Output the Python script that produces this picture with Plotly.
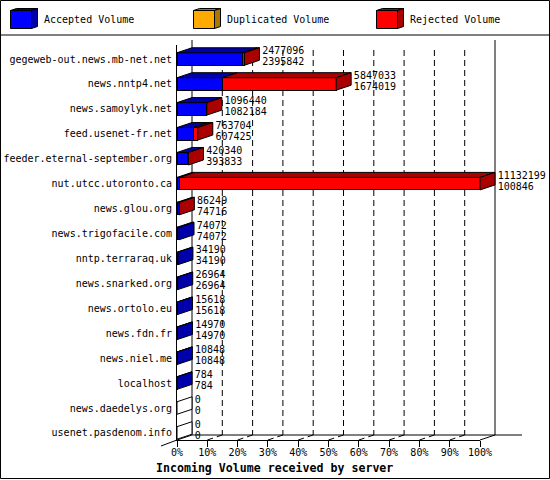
"""
Incoming volume per server, 3D-looking stacked bars (innreport style)
"""

import plotly.graph_objects as go

# Data
servers = ['gegeweb-out.news.mb-net.net', 'news.nntp4.net', 'news.samoylyk.net',
           'feed.usenet-fr.net', 'feeder.eternal-september.org', 'nut.utcc.utoronto.ca',
           'news.glou.org', 'news.trigofacile.com', 'nntp.terraraq.uk', 'news.snarked.org',
           'news.ortolo.eu', 'news.fdn.fr', 'news.niel.me', 'localhost',
           'news.daedelys.org', 'usenet.pasdenom.info']
total = [2477096, 5847033, 1096440, 763704, 420340, 11132199, 86249, 74072,
         34190, 26964, 15618, 14970, 10848, 784, 0, 0]
accepted = [2395842, 1674019, 1082184, 607425, 393833, 100846, 74716, 74072,
            34190, 26964, 15618, 14970, 10848, 784, 0, 0]
percent_ticks = [0, 10, 20, 30, 40, 50, 60, 70, 80, 90, 100]

MONO = 'DejaVu Sans Mono, Liberation Mono, monospace'
BLUE, BLUE_DARK = '#0000ff', '#0000aa'
RED, RED_DARK = '#ff0000', '#aa0000'
ORANGE, ORANGE_DARK = '#ffaa00', '#aa7700'

# Page pixels of the chart box
W, H = 550, 480
X0, X100 = 177, 480
Y_TOP, Y_BOTTOM = 45, 440
ROW0_Y, ROW_STEP = 59, 24.93
DEPTH_X, DEPTH_Y = 15, 5
BAR_H = 12.5 / ROW_STEP

PX_PER_PCT = (X100 - X0) / 100
depth_pct = DEPTH_X / PX_PER_PCT
depth_row = DEPTH_Y / ROW_STEP
half = BAR_H / 2


def pct(v):
    return v / max(total) * 100


def face(xs, ys, color):
    return go.Scatter(x=xs, y=ys, xaxis='x2', yaxis='y2', mode='lines', fill='toself',
                      fillcolor=color, line=dict(color='black', width=1),
                      hoverinfo='skip', showlegend=False)


fig = go.Figure()

# Front faces
rejected = [t - a for t, a in zip(total, accepted)]
fig.add_trace(go.Bar(y=servers, x=[pct(v) for v in accepted], orientation='h', width=BAR_H,
                     marker=dict(color=BLUE, line=dict(color='black', width=1)), name='Accepted Volume'))
fig.add_trace(go.Bar(y=servers, x=[pct(v) for v in rejected], orientation='h', width=BAR_H,
                     marker=dict(color=RED, line=dict(color='black', width=1)), name='Rejected Volume'))

# Top and side faces
for i, t in enumerate(total):
    end = pct(t)
    a_end = pct(accepted[i])
    top_y = i - half
    bot_y = i + half
    if t > 0:
        fig.add_trace(face([0, a_end, a_end + depth_pct, depth_pct, 0],
                           [top_y, top_y, top_y - depth_row, top_y - depth_row, top_y], BLUE_DARK))
        if t > accepted[i]:
            fig.add_trace(face([a_end, end, end + depth_pct, a_end + depth_pct, a_end],
                               [top_y, top_y, top_y - depth_row, top_y - depth_row, top_y], RED_DARK))
    side = 'white' if t == 0 else (RED_DARK if t > accepted[i] else BLUE_DARK)
    fig.add_trace(face([end, end + depth_pct, end + depth_pct, end, end],
                       [top_y, top_y - depth_row, bot_y - depth_row, bot_y, top_y], side))

# Value labels
label_x = [pct(t) + depth_pct + 0.9 for t in total]
for values, shift in ((total, -0.30), (accepted, 0.14)):
    fig.add_trace(go.Scatter(x=label_x, y=[i + shift for i in range(len(servers))],
                             xaxis='x2', yaxis='y2', mode='text', text=[str(v) for v in values],
                             textposition='middle right', cliponaxis=False,
                             textfont=dict(family=MONO, size=10, color='black'),
                             hoverinfo='skip', showlegend=False))

shapes = []


def px_line(x0, y0, x1, y1, dash='solid'):
    shapes.append(dict(type='line', xref='paper', yref='paper', layer='below',
                       x0=x0 / W, x1=x1 / W, y0=1 - y0 / H, y1=1 - y1 / H,
                       line=dict(color='black', width=1, dash=dash)))


# Back wall, floor and grid
px_line(X0 + DEPTH_X, Y_TOP - DEPTH_Y, X0 + DEPTH_X, Y_BOTTOM - DEPTH_Y)
px_line(X100 + DEPTH_X, Y_TOP - DEPTH_Y, X100 + DEPTH_X, Y_BOTTOM - DEPTH_Y)
px_line(X0 + DEPTH_X, Y_BOTTOM - DEPTH_Y, 522, Y_BOTTOM - DEPTH_Y)
px_line(X100, Y_BOTTOM, X100 + DEPTH_X, Y_BOTTOM - DEPTH_Y)
px_line(161, 446, X0, Y_BOTTOM)
px_line(X0, Y_BOTTOM, X0 + DEPTH_X, Y_BOTTOM - DEPTH_Y)
for p in percent_ticks[1:-1]:
    gx = X0 + p * PX_PER_PCT
    px_line(gx + DEPTH_X, 50, gx + DEPTH_X, Y_BOTTOM - DEPTH_Y, dash='6px,4px')
    px_line(gx, Y_BOTTOM, gx + DEPTH_X, Y_BOTTOM - DEPTH_Y, dash='6px,4px')

# Outer frame and legend separator
shapes.append(dict(type='rect', xref='paper', yref='paper', x0=0.5 / W, x1=549.5 / W,
                   y0=1 - 478.5 / H, y1=1 - 0.5 / H, line=dict(color='black', width=1)))
px_line(0, 35, W, 35)


def px_poly(points, color):
    path = 'M ' + ' L '.join(f'{x / W},{1 - y / H}' for x, y in points) + ' Z'
    shapes.append(dict(type='path', xref='paper', yref='paper', path=path, fillcolor=color,
                       line=dict(color='black', width=1)))


# Legend keys
legend_items = [('Accepted Volume', BLUE, BLUE_DARK, 10.5), ('Duplicated Volume', ORANGE, ORANGE_DARK, 193.5),
                ('Rejected Volume', RED, RED_DARK, 376.5)]
annotations = []
for name, color, dark, lx in legend_items:
    px_poly([(lx, 10.5), (lx + 21, 10.5), (lx + 21, 28.5), (lx, 28.5)], color)
    px_poly([(lx, 10.5), (lx + 6, 8.5), (lx + 27, 8.5), (lx + 21, 10.5)], dark)
    px_poly([(lx + 21, 10.5), (lx + 27, 8.5), (lx + 27, 26.5), (lx + 21, 28.5)], dark)
    annotations.append(dict(xref='paper', yref='paper', x=(lx + 31) / W, y=1 - 20 / H, text=name,
                            showarrow=False, xanchor='left', yanchor='middle',
                            font=dict(family=MONO, size=10, color='black')))

annotations.append(dict(xref='paper', yref='paper', x=274 / W, y=1 - 468 / H,
                        text='<b>Incoming Volume received by server</b>', showarrow=False,
                        xanchor='center', yanchor='middle',
                        font=dict(family=MONO, size=11.6, color='black')))

fig.update_layout(
    width=W, height=H,
    margin=dict(l=0, r=0, t=0, b=0),
    barmode='stack',
    showlegend=False,
    paper_bgcolor='white',
    plot_bgcolor='rgba(0,0,0,0)',
    shapes=shapes,
    annotations=annotations,
    xaxis=dict(domain=[X0 / W, X100 / W], range=[0, 100], tickvals=percent_ticks, automargin=False,
               ticktext=[f'{p}%' for p in percent_ticks], ticks='outside', ticklen=6,
               ticklabelstandoff=-3, tickcolor='black', showgrid=False, zeroline=False, showline=True,
               linecolor='black', tickfont=dict(family=MONO, size=10, color='black')),
    yaxis=dict(domain=[1 - Y_BOTTOM / H, 1 - Y_TOP / H], type='category', categoryorder='array',
               categoryarray=servers, automargin=False,
               range=[(Y_BOTTOM - ROW0_Y) / ROW_STEP, (Y_TOP - ROW0_Y) / ROW_STEP],
               showgrid=False, zeroline=False, showline=True, linecolor='black', ticks='',
               ticklabelstandoff=2, tickmode='array', tickvals=servers, ticktext=servers,
               tickfont=dict(family=MONO, size=10, color='black')),
    # full page axes for the faces that stick out of the box
    xaxis2=dict(domain=[0, 1], anchor='y2', visible=False, automargin=False,
                range=[-X0 / PX_PER_PCT, (W - X0) / PX_PER_PCT]),
    yaxis2=dict(domain=[0, 1], anchor='x2', visible=False, automargin=False,
                range=[(H - ROW0_Y) / ROW_STEP, -ROW0_Y / ROW_STEP]),
)

fig.write_html("out.html", config=dict(displayModeBar=False),
               post_script="document.body.style.margin='0';")
